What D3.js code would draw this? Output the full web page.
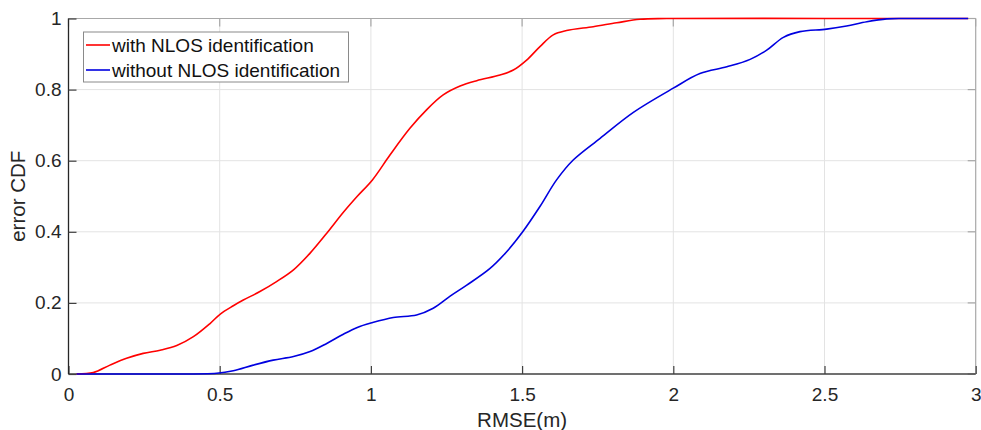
<!DOCTYPE html>
<html>
<head>
<meta charset="utf-8">
<script src="https://cdn.jsdelivr.net/npm/d3@7"></script>
<style>
  html, body { margin: 0; padding: 0; background: #fff; }
  svg { display: block; font-family: Arial, "Liberation Sans", Helvetica, sans-serif; }
</style>
</head>
<body>
<svg id="chart" width="981" height="430"></svg>
<script>
// RMSE (m) sample positions and empirical CDF values for each method
const withRmse = [0.027, 0.082, 0.137, 0.192, 0.247, 0.303, 0.358, 0.413, 0.468, 0.501, 0.545, 0.578, 0.633, 0.688, 0.744, 0.799, 0.854, 0.909, 0.955, 1.005, 1.063, 1.129, 1.184, 1.239, 1.295, 1.350, 1.427, 1.471, 1.515, 1.559, 1.603, 1.647, 1.735, 1.813, 1.890, 1.978, 2.5, 2.975];
const withCdf  = [0.000, 0.004, 0.025, 0.044, 0.058, 0.067, 0.080, 0.105, 0.142, 0.168, 0.192, 0.208, 0.232, 0.260, 0.293, 0.340, 0.396, 0.455, 0.500, 0.546, 0.616, 0.691, 0.743, 0.785, 0.810, 0.825, 0.841, 0.855, 0.883, 0.921, 0.954, 0.966, 0.977, 0.988, 0.998, 1.000, 1.000, 1.000];

const withoutRmse = [0.027, 0.30, 0.49, 0.545, 0.611, 0.677, 0.744, 0.799, 0.854, 0.909, 0.955, 1.003, 1.074, 1.151, 1.206, 1.262, 1.317, 1.394, 1.449, 1.502, 1.559, 1.614, 1.669, 1.758, 1.868, 2.000, 2.088, 2.177, 2.254, 2.309, 2.364, 2.419, 2.507, 2.573, 2.640, 2.706, 2.772, 2.975];
const withoutCdf  = [0.000, 0.000, 0.002, 0.009, 0.025, 0.039, 0.049, 0.063, 0.086, 0.112, 0.131, 0.144, 0.159, 0.166, 0.185, 0.219, 0.250, 0.297, 0.344, 0.400, 0.471, 0.546, 0.602, 0.663, 0.736, 0.804, 0.845, 0.864, 0.885, 0.911, 0.947, 0.963, 0.970, 0.979, 0.991, 0.999, 1.000, 1.000];

const xTicks = [0, 0.5, 1, 1.5, 2, 2.5, 3];
const yTicks = [0, 0.2, 0.4, 0.6, 0.8, 1];

const seriesNames = ["with NLOS identification", "without NLOS identification"];
const seriesColors = ["#ff0000", "#0000e0"];

const svg = d3.select("#chart");
const margin = { left: 68.5, right: 5.3, top: 18.5, bottom: 56 };
const W = 981, H = 430;

const x = d3.scaleLinear().domain([0, 3]).range([margin.left, W - margin.right]);
const y = d3.scaleLinear().domain([0, 1]).range([H - margin.bottom, margin.top]);

const x0 = x.range()[0], x1 = x.range()[1];
const y0 = y.range()[0], y1 = y.range()[1];

// grid
const grid = svg.append("g").attr("stroke", "#e3e3e3").attr("stroke-width", 1);
xTicks.slice(1, -1).forEach(t => {
  grid.append("line").attr("x1", x(t)).attr("x2", x(t)).attr("y1", y0).attr("y2", y1);
});
yTicks.slice(1, -1).forEach(t => {
  grid.append("line").attr("x1", x0).attr("x2", x1).attr("y1", y(t)).attr("y2", y(t));
});

// box top & right in light grey with mirrored ticks
const tickLen = 8;
const box = svg.append("g").attr("stroke", "#a8a8a8").attr("stroke-width", 1.2).attr("fill", "none");
box.append("line").attr("x1", x0).attr("x2", x1).attr("y1", y1).attr("y2", y1);
box.append("line").attr("x1", x1).attr("x2", x1).attr("y1", y0).attr("y2", y1);
xTicks.forEach(t => box.append("line").attr("x1", x(t)).attr("x2", x(t)).attr("y1", y1).attr("y2", y1 + tickLen));
yTicks.forEach(t => box.append("line").attr("x1", x1).attr("x2", x1 - tickLen).attr("y1", y(t)).attr("y2", y(t)));

// bottom axis
const xAxis = d3.axisBottom(x).tickValues(xTicks).tickSize(-tickLen).tickPadding(14)
  .tickFormat(d => d3.format("~g")(d));
const gx = svg.append("g").attr("transform", `translate(0,${y0})`).call(xAxis);
gx.select(".domain").attr("stroke", "#404040").attr("stroke-width", 1.3);
gx.selectAll(".tick line").attr("stroke", "#404040").attr("stroke-width", 1.2);
gx.selectAll(".tick text").attr("font-size", 19).attr("fill", "#262626")
  .attr("font-family", "Arial, 'Liberation Sans', sans-serif");

// left axis
const yAxis = d3.axisLeft(y).tickValues(yTicks).tickSize(-tickLen).tickPadding(7)
  .tickFormat(d => d3.format("~g")(d));
const gy = svg.append("g").attr("transform", `translate(${x0},0)`).call(yAxis);
gy.select(".domain").attr("stroke", "#262626").attr("stroke-width", 1.3);
gy.selectAll(".tick line").attr("stroke", "#404040").attr("stroke-width", 1.2);
gy.selectAll(".tick text").attr("font-size", 19).attr("fill", "#262626")
  .attr("font-family", "Arial, 'Liberation Sans', sans-serif");
gx.select(".domain").attr("d", `M${x0},0H${x1}`);
gy.select(".domain").attr("d", `M0,${y0}V${y1}`);

// axis labels
svg.append("text").attr("x", (x0 + x1) / 2).attr("y", 426.5)
  .attr("text-anchor", "middle").attr("font-size", 20.5).attr("fill", "#262626")
  .text("RMSE(m)");
svg.append("text").attr("transform", `translate(25,${(y0 + y1) / 2}) rotate(-90)`)
  .attr("text-anchor", "middle").attr("font-size", 20.5).attr("fill", "#262626")
  .text("error CDF");

// curves, smoothed through the sampled points
const line = d3.line().x(d => x(d[0])).y(d => Math.min(y(d[1]), y0)).curve(d3.curveCatmullRom.alpha(0.5));
const series = [
  d3.zip(withRmse, withCdf),
  d3.zip(withoutRmse, withoutCdf)
];
series.forEach((pts, i) => {
  svg.append("path").datum(pts).attr("d", line)
    .attr("fill", "none").attr("stroke", seriesColors[i]).attr("stroke-width", 1.6);
});

// legend
const lg = svg.append("g");
lg.append("rect").attr("x", 83.5).attr("y", 32).attr("width", 265).attr("height", 50)
  .attr("fill", "#fff").attr("stroke", "#8a8a8a").attr("stroke-width", 1);
seriesNames.forEach((name, i) => {
  const ly = 45 + i * 25;
  lg.append("line").attr("x1", 86).attr("x2", 110).attr("y1", ly).attr("y2", ly)
    .attr("stroke", seriesColors[i]).attr("stroke-width", 1.6);
  lg.append("text").attr("x", 112).attr("y", ly).attr("dy", "0.35em")
    .attr("font-size", 19).attr("fill", "#111").text(name);
});
</script>
</body>
</html>
